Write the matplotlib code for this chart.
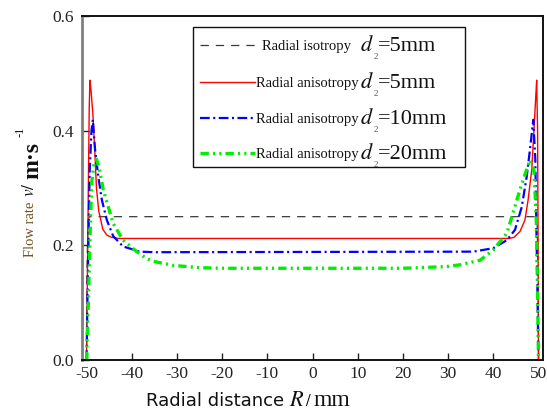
import matplotlib
matplotlib.use("Agg")
import matplotlib.pyplot as plt
from matplotlib.transforms import IdentityTransform
from matplotlib.lines import Line2D
from matplotlib.patches import Rectangle

plt.rcParams['lines.scale_dashes'] = False
plt.rcParams['mathtext.fontset'] = 'stix'
plt.rcParams['font.family'] = ['Liberation Serif', 'DejaVu Serif']

# ---------------- data ----------------
x_iso = [-50, -49.9, -49.7, -49.4, 49.4, 49.7, 49.9, 50]
v_iso = [0, 0.15, 0.24, 0.25, 0.25, 0.24, 0.15, 0]

x_red = [-50, -49.8, -49.6, -49.4, -49.25, -49.0, -48.6, -48.2, -47.8, -47.3, -47.0,
         -46.4, -45.5, -44.5, -43.0, 43.5, 44.6, 45.9, 47.0, 47.7, 48.5, 49.0, 49.4,
         49.6, 49.8, 49.95, 50]
v_red = [0, 0.15, 0.30, 0.44, 0.488, 0.47, 0.43, 0.37, 0.30, 0.26, 0.25,
         0.228, 0.218, 0.214, 0.212, 0.212, 0.214, 0.224, 0.244, 0.279, 0.331, 0.40, 0.46,
         0.488, 0.40, 0.15, 0]

x_blue = [-50, -49.7, -49.3, -48.9, -48.6, -48.1, -47.4, -46.6, -45.5, -44.1, -41.9,
          -38.2, -35.0, 35.6, 40.0, 43.0, 44.8, 46.3, 47.4, 48.1, 48.85, 49.3, 49.7, 50]
v_blue = [0, 0.15, 0.33, 0.40, 0.419, 0.366, 0.32, 0.279, 0.244, 0.216, 0.198,
          0.189, 0.188, 0.189, 0.195, 0.209, 0.227, 0.267, 0.32, 0.366, 0.419, 0.35, 0.15, 0]

x_green = [-50, -49.6, -49.2, -48.85, -48.3, -47.8, -47.2, -46.3, -44.1, -41.9, -38.9,
           -36.7, -35.2, -30.8, -25, -20, 20, 26.7, 29.7, 32.6, 37.1, 40.0, 43.0, 44.8,
           45.9, 48.1, 49.0, 49.5, 49.8, 50]
v_green = [0, 0.10, 0.22, 0.31, 0.345, 0.35, 0.335, 0.297, 0.238, 0.209, 0.189,
           0.177, 0.172, 0.165, 0.161, 0.16, 0.16, 0.162, 0.163, 0.166, 0.174, 0.192, 0.221, 0.268,
           0.297, 0.349, 0.33, 0.25, 0.12, 0]

x_ticks = [-50, -40, -30, -20, -10, 0, 10, 20, 30, 40, 50]
y_ticks = [0.0, 0.2, 0.4, 0.6]
y_ticklabels = ["0.0", "0.2", "0.4", "0.6"]

legend_small = ["Radial isotropy", "Radial anisotropy", "Radial anisotropy", "Radial anisotropy"]
legend_value = ["=5mm", "=5mm", "=10mm", "=20mm"]

# ---------------- styles ----------------
styles = [
    dict(color='#3a3a3a', lw=0.9, dashes=(6, 5)),
    dict(color='#ff0000', lw=1.0, linestyle='-'),
    dict(color='#0000ff', lw=1.6, dashes=(7, 2.5, 1.5, 2.5)),
    dict(color='#00ee00', lw=2.4, dashes=(6, 3, 1.5, 3, 1.5, 3)),
]

W, H = 547, 417
fig = plt.figure(figsize=(W / 100, H / 100), dpi=100)
ax = fig.add_axes([82 / W, (H - 360) / H, (543 - 82) / W, (360 - 16) / H])

series = [(x_iso, v_iso), (x_red, v_red), (x_blue, v_blue), (x_green, v_green)]
for (xs, vs), st in zip(series, styles):
    ax.plot(xs, vs, **st)

ax.set_xlim(-51, 51)
ax.set_ylim(0, 0.6)
ax.set_xticks(x_ticks)
ax.set_xticklabels([str(t) for t in x_ticks])
ax.set_yticks(y_ticks)
ax.set_yticklabels(y_ticklabels)
ax.tick_params(direction='in', length=5, width=1, labelsize=12.5, colors='#222222')
ax.tick_params(axis='x', pad=4)
ax.tick_params(axis='y', pad=6)

for s in ['top', 'right', 'bottom']:
    ax.spines[s].set_color('#111111')
    ax.spines[s].set_linewidth(1.4)
ax.spines['left'].set_color('#808080')
ax.spines['left'].set_linewidth(2.0)

# ---------------- manual legend ----------------
def ap(px, py):
    return ((px - 82) / 461, (360 - py) / 344)

x0, y0 = ap(192.5, 166.5)
x1, y1 = ap(465, 27)
ax.add_patch(Rectangle((x0, y0), x1 - x0, y1 - y0, transform=ax.transAxes,
                       fill=False, edgecolor='#111111', lw=1.0, zorder=5))
row_y = [45, 81.7, 118, 153]
small_x = [262, 256, 256, 256]
for i in range(4):
    hx0, hy = ap(200, row_y[i])
    hx1, _ = ap(258 if i == 0 else 255, row_y[i])
    ax.add_line(Line2D([hx0, hx1], [hy, hy], transform=ax.transAxes, zorder=6, **styles[i]))
    sx, sy = ap(small_x[i], row_y[i] + 5)
    ax.text(sx, sy, legend_small[i], transform=ax.transAxes, fontsize=10.5,
            ha='left', va='baseline', color='#111111', zorder=7)
    dx, dy = ap(360, row_y[i] + 6)
    ax.text(dx, dy, r"$d$", transform=ax.transAxes, fontsize=16,
            ha='left', va='baseline', color='#111111', zorder=7)
    sx2, sy2 = ap(373.5, row_y[i] + 14)
    ax.text(sx2, sy2, "2", transform=ax.transAxes, fontsize=6.5,
            ha='left', va='baseline', color='#555555', zorder=7)
    vx, vy = ap(378, row_y[i] + 6)
    ax.text(vx, vy, legend_value[i], transform=ax.transAxes, fontsize=16,
            ha='left', va='baseline', color='#111111', zorder=7)

# ---------------- axis labels ----------------
T = IdentityTransform()
def fp(px, py):
    return (px, H - py)

# x label
fig.text(*fp(146.5, 406), "Radial distance", transform=T, family=['DejaVu Sans'],
         fontsize=13, ha='left', va='baseline', color='#111111')
fig.text(*fp(289, 406), r"$R$", transform=T, fontsize=16, ha='left', va='baseline', color='#111111')
fig.text(*fp(305, 406), r"$/$", transform=T, fontsize=12, ha='left', va='baseline', color='#111111')
fig.text(*fp(313, 406), "mm", transform=T, fontsize=17, ha='left', va='baseline', color='#111111')

# y label (rotated)
fig.text(*fp(34.5, 257), "Flow rate", transform=T, fontsize=10.5, rotation=90,
         rotation_mode='anchor', ha='left', va='baseline', color='#6e5420')
fig.text(*fp(34.5, 197), r"$v/$", transform=T, fontsize=12.5, rotation=90,
         rotation_mode='anchor', ha='left', va='baseline', color='#111111')
fig.text(*fp(38.5, 179), "m·s", transform=T, fontsize=17, fontweight='bold', rotation=90,
         rotation_mode='anchor', ha='left', va='baseline', color='#111111')
fig.text(*fp(23.5, 137), "-1", transform=T, fontsize=9, rotation=90,
         rotation_mode='anchor', ha='left', va='baseline', color='#111111')

fig.savefig("out.png", dpi=100)
